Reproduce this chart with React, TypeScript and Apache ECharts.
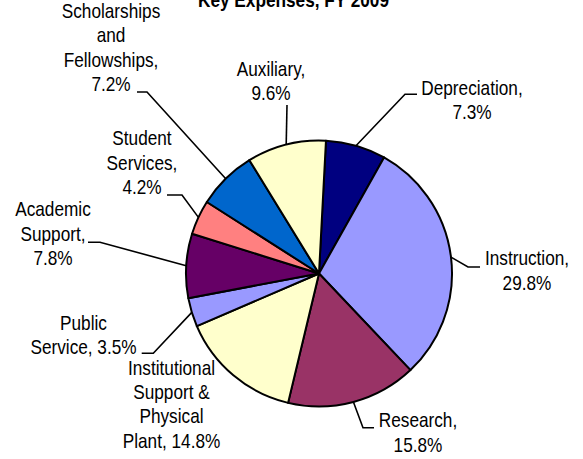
import React, { useEffect, useRef } from 'react';
import * as echarts from 'echarts';

// ---- data ----
const categories = [
  'Depreciation',
  'Instruction',
  'Research',
  'Institutional Support & Physical Plant',
  'Public Service',
  'Academic Support',
  'Student Services',
  'Scholarships and Fellowships',
  'Auxiliary',
];
const values = [7.3, 29.8, 15.8, 14.8, 3.5, 7.8, 4.2, 7.2, 9.6];
const labelNames = [
  'Depreciation,\n',
  'Instruction,\n',
  'Research,\n',
  'Institutional\nSupport &\nPhysical\nPlant, ',
  'Public\nService, ',
  'Academic\nSupport,\n',
  'Student\nServices,\n',
  'Scholarships\nand\nFellowships,\n',
  'Auxiliary,\n',
];
const titleText = 'Key Expenses, FY 2009';

// ---- styles / layout ----
const COLORS = ['#000080', '#9999FF', '#993366', '#FFFFCC', '#9999FF', '#660066', '#FF8080', '#0066CC', '#FFFFCC'];
const FONT = "'Liberation Sans', Arial, sans-serif";
const FS = 21;
const LH = 24.3;
const NARROW = 0.82; // emulate a narrow face
const BASE_OFFSET = LH / 2 + 0.35 * FS;
const CENTER: [number, number] = [319, 273.5];
const RADIUS = 133;
const START_ANGLE = 87;

// label block centre x, first-line baseline, leader line bend / end
const LABEL_LAYOUT: { cx: number; base: number; bend: number[] | null; end: number[] | null }[] = [
  { cx: 472, base: 95, bend: [405, 94.3], end: [417, 94.3] },
  { cx: 527, base: 265.7, bend: [468, 267], end: [480, 267] },
  { cx: 418, base: 427.7, bend: [363, 427.7], end: [374, 427.7] },
  { cx: 171.5, base: 375, bend: null, end: null },
  { cx: 83.5, base: 330, bend: [153.3, 353.3], end: [141.7, 353.3] },
  { cx: 53, base: 216.7, bend: [100, 242.3], end: [88, 242.3] },
  { cx: 142, base: 145.7, bend: [182, 195], end: [167, 195] },
  { cx: 111, base: 18.3, bend: [147, 92], end: [137, 92] },
  { cx: 271, base: 76, bend: null, end: [287, 105] },
];

// point on the pie rim at the middle angle of slice i (same geometry as the series)
function edgePoint(i: number): number[] {
  const total = values.reduce((a, b) => a + b, 0);
  let before = 0;
  for (let k = 0; k < i; k++) before += values[k];
  const mid = ((before + values[i] / 2) / total) * 360 + (90 - START_ANGLE);
  const rad = (mid * Math.PI) / 180;
  return [CENTER[0] + RADIUS * Math.sin(rad), CENTER[1] - RADIUS * Math.cos(rad)];
}

export default function App() {
  const ref = useRef<HTMLDivElement>(null);
  useEffect(() => {
    if (!ref.current) return;
    const chart = echarts.init(ref.current, undefined, { renderer: 'svg' });

    const labelGraphics: any[] = [];
    categories.forEach((_, i) => {
      const L = LABEL_LAYOUT[i];
      if (L.end) {
        const pts: number[][] = [edgePoint(i)];
        if (L.bend) pts.push(L.bend);
        pts.push(L.end);
        labelGraphics.push({
          type: 'polyline',
          silent: true,
          shape: { points: pts },
          style: { stroke: '#000', lineWidth: 1.6, fill: null },
          z: 10,
        });
      }
      labelGraphics.push({
        type: 'text',
        silent: true,
        x: L.cx,
        y: L.base - BASE_OFFSET,
        scaleX: NARROW,
        z: 10,
        style: {
          text: labelNames[i] + values[i].toFixed(1) + '%',
          fontSize: FS,
          fontFamily: FONT,
          lineHeight: LH,
          fill: '#000',
          align: 'center',
          verticalAlign: 'top',
        },
      });
    });

    chart.setOption({
      animation: false,
      backgroundColor: '#ffffff',
      graphic: [
        {
          type: 'text',
          silent: true,
          x: 293.5,
          y: 10,
          scaleX: NARROW,
          style: {
            text: titleText,
            fontSize: FS,
            fontWeight: 'bold',
            fontFamily: FONT,
            fill: '#000',
            align: 'center',
            verticalAlign: 'bottom',
          },
        },
        ...labelGraphics,
      ],
      series: [
        {
          type: 'pie',
          center: CENTER,
          radius: [0, RADIUS],
          startAngle: START_ANGLE,
          clockwise: true,
          silent: true,
          emphasis: { disabled: true },
          itemStyle: { borderColor: '#000', borderWidth: 2 },
          label: { show: false },
          labelLine: { show: false },
          data: categories.map((name, i) => ({
            name,
            value: values[i],
            itemStyle: { color: COLORS[i] },
          })),
        },
      ],
    });
    return () => chart.dispose();
  }, []);
  return (
    <div
      ref={ref}
      style={{ position: 'absolute', left: 0, top: 0, width: 583, height: 459 }}
    />
  );
}
